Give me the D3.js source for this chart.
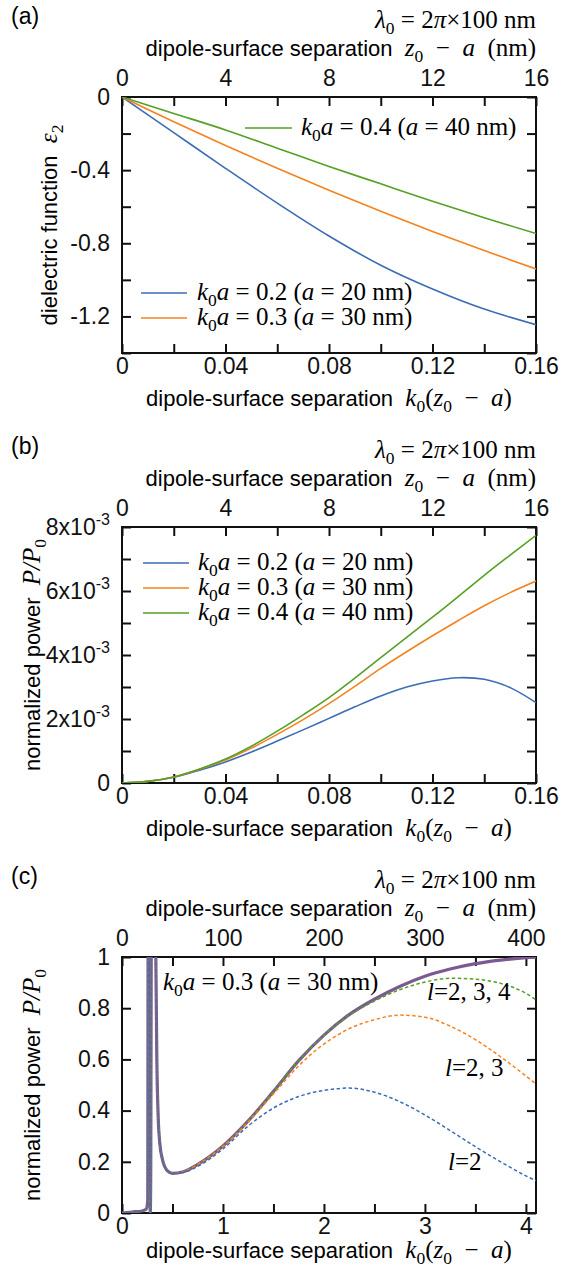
<!DOCTYPE html>
<html>
<head>
<meta charset="utf-8">
<script src="https://cdn.jsdelivr.net/npm/d3@7"></script>
<style>
  body { margin: 0; background: #fff; }
  svg text { white-space: pre; }
</style>
</head>
<body>
<div id="chart"></div>
<script>
// ---- data ----

// (a) dielectric function eps2 vs k0(z0-a)
const sepA = [0, 0.02, 0.04, 0.06, 0.08, 0.10, 0.12, 0.14, 0.16]
const epsK02 = [0, -0.195, -0.39, -0.58, -0.76, -0.92, -1.05, -1.16, -1.245]
const epsK03 = [0, -0.135, -0.265, -0.39, -0.51, -0.625, -0.735, -0.84, -0.94]
const epsK04 = [0, -0.09, -0.18, -0.28, -0.38, -0.475, -0.57, -0.66, -0.747]

// (b) normalized power (x 1e-3) vs k0(z0-a)
const sepB = [0, 0.01, 0.02, 0.03, 0.04, 0.05, 0.06, 0.07, 0.08, 0.09, 0.10, 0.11, 0.12, 0.13, 0.14, 0.15, 0.16]
const powK02 = [0, 0.05, 0.18, 0.40, 0.66, 0.97, 1.31, 1.66, 2.02, 2.38, 2.72, 3.00, 3.19, 3.29, 3.24, 2.98, 2.51]
const powK03 = [0, 0.05, 0.19, 0.43, 0.72, 1.09, 1.52, 1.98, 2.48, 3.02, 3.58, 4.10, 4.60, 5.08, 5.54, 5.95, 6.31]
const powK04 = [0, 0.05, 0.19, 0.44, 0.75, 1.15, 1.62, 2.13, 2.67, 3.28, 3.92, 4.55, 5.18, 5.83, 6.49, 7.12, 7.74]

// (c) normalized power vs k0(z0-a), k0a = 0.3
const sepC = [0, 0.1, 0.2, 0.24, 0.255, 0.26, 0.268, 0.275, 0.28, 0.285, 0.292, 0.32, 0.335, 0.345, 0.358, 0.375,
  0.4, 0.45, 0.5, 0.6, 0.75, 1.0, 1.25, 1.5, 1.75, 2.0, 2.25, 2.5, 2.75, 3.0, 3.25, 3.5, 3.75, 4.0, 4.1]
const spike = [0, 0.004, 0.008, 0.015, 0.05, 1.5, 1.5, 0.2, 0.0, 0.2, 1.5, 2.0, 1.0, 0.6, 0.38, 0.27, 0.21, 0.165, 0.155]
const powTotal = spike.concat([0.16, 0.19, 0.262, 0.36, 0.475, 0.595, 0.695, 0.775, 0.835, 0.885, 0.925, 0.953, 0.974, 0.988, 0.997, 1.0])
const powL2 = spike.concat([0.158, 0.182, 0.25, 0.34, 0.41, 0.455, 0.479, 0.488, 0.472, 0.435, 0.383, 0.322, 0.259, 0.2, 0.145, 0.126])
const powL23 = spike.concat([0.16, 0.19, 0.26, 0.355, 0.465, 0.575, 0.66, 0.72, 0.755, 0.773, 0.765, 0.73, 0.677, 0.61, 0.535, 0.504])
const powL234 = spike.concat([0.16, 0.19, 0.262, 0.36, 0.475, 0.595, 0.695, 0.772, 0.828, 0.872, 0.902, 0.917, 0.913, 0.897, 0.858, 0.833])

// ticks
const ticksA_bottom = [0, 0.02, 0.04, 0.06, 0.08, 0.10, 0.12, 0.14, 0.16]
const labelsA_bottom = [0, 0.04, 0.08, 0.12, 0.16]
const ticksNm16 = [0, 2, 4, 6, 8, 10, 12, 14, 16]
const labelsNm16 = [0, 4, 8, 12, 16]
const ticksA_y = [0, -0.2, -0.4, -0.6, -0.8, -1.0, -1.2, -1.4]
const labelsA_y = [0, -0.4, -0.8, -1.2]
const ticksB_y = [0, 1, 2, 3, 4, 5, 6, 7, 8]
const labelsB_y = [0, 2, 4, 6, 8]
const ticksC_bottom = [0, 0.5, 1, 1.5, 2, 2.5, 3, 3.5, 4]
const labelsC_bottom = [0, 1, 2, 3, 4]
const ticksC_top = [0, 50, 100, 150, 200, 250, 300, 350, 400]
const labelsC_top = [0, 100, 200, 300, 400]
const ticksC_y = [0, 0.2, 0.4, 0.6, 0.8, 1]

const sans = '"Liberation Sans", Arial, sans-serif'
const serif = '"Liberation Serif", "Times New Roman", serif'
const blue = '#3b6db4'
const orange = '#f5821f'
const green = '#55a025'
const purple = '#7a5a90'

;(function () {

  const W = 565
  const H = 1268
  const margin = { left: 122, right: 29 }
  const width = W - margin.left - margin.right
  const height = 256
  const panelTops = [97, 527, 957]
  const fs = 23      // tick labels
  const ts = 22      // sans part of titles
  const ms = 25      // serif math

  const svg = d3.select('#chart').append('svg')
    .attr('width', W)
    .attr('height', H)

  // write a mix of sans words and serif math pieces into one text element
  function mathText (sel, parts, size, sansSize) {
    let shift = 0
    sansSize = sansSize || size
    parts.forEach(([t, kind]) => {
      const span = sel.append('tspan').text(t)
      let target = 0
      if (kind === 'sub') target = size * 0.25
      if (kind === 'ssup') target = -sansSize * 0.42
      if (target - shift !== 0) span.attr('dy', target - shift)
      shift = target
      const isSans = kind === 'sans' || kind === 'ssup'
      span.attr('font-family', isSans ? sans : serif)
      if (kind === 'it') span.attr('font-style', 'italic')
      if (kind === 'sans') span.attr('font-size', sansSize)
      else if (kind === 'ssup') span.attr('font-size', sansSize * 0.7)
      else if (kind === 'sub') span.attr('font-size', size * 0.7)
      else span.attr('font-size', size)
    })
  }

  const lambdaParts = [['λ', 'it'], ['0', 'sub'], [' = 2', 'rm'], ['π', 'it'], ['×100 nm', 'rm']]
  const topTitle = [['dipole-surface separation  ', 'sans'], ['z', 'it'], ['0', 'sub'], ['  −  ', 'rm'], ['a', 'it'], ['  (nm)', 'rm']]
  const bottomTitle = [['dipole-surface separation  ', 'sans'], ['k', 'it'], ['0', 'sub'], ['(', 'rm'], ['z', 'it'], ['0', 'sub'], ['  −  ', 'rm'], ['a', 'it'], [')', 'rm']]
  const powerTitle = [['normalized power  ', 'sans'], ['P/P', 'it'], ['0', 'sub']]

  function k0aLabel (v, nm) {
    return [['k', 'it'], ['0', 'sub'], ['a', 'it'], [' = ' + v + ' (', 'rm'], ['a', 'it'], [' = ' + nm + ' nm)', 'rm']]
  }

  function frame (i, letter, x, xTicks, xLabels, xFmt, xTop, topTicks, topLabels, y, yTicks, yLabels, yTitle, yTitleX, titleGap) {
    const g = svg.append('g')
      .attr('transform', 'translate(' + margin.left + ',' + panelTops[i] + ')')

    const fmt = (labels, f) => d => labels.some(l => Math.abs(l - d) < 1e-9) ? f(d) : ''

    const bottom = g.append('g')
      .attr('transform', 'translate(0,' + height + ')')
      .call(d3.axisBottom(x).tickValues(xTicks).tickSize(-9).tickPadding(5).tickFormat(fmt(xLabels, xFmt)))
    const top = g.append('g')
      .call(d3.axisTop(xTop).tickValues(topTicks).tickSize(-9).tickPadding(11).tickFormat(fmt(topLabels, String)))
    const left = g.append('g')
      .call(d3.axisLeft(y).tickValues(yTicks).tickSize(-9).tickPadding(12).tickFormat(fmt(yLabels, String)))
    const right = g.append('g')
      .attr('transform', 'translate(' + width + ',0)')
      .call(d3.axisRight(y).tickValues(yTicks).tickSize(-9).tickFormat(''))

    ;[bottom, top, left, right].forEach(a => {
      a.select('.domain').remove()
      a.attr('font-size', fs).attr('font-family', sans)
      a.selectAll('.tick line').attr('stroke', '#111').attr('stroke-width', 2)
      a.selectAll('.tick text').attr('fill', '#111')
    })

    g.append('rect')
      .attr('width', width)
      .attr('height', height)
      .attr('fill', 'none')
      .attr('stroke', '#111')
      .attr('stroke-width', 2)

    // panel letter
    svg.append('text')
      .attr('x', 11)
      .attr('y', panelTops[i] - 73)
      .attr('font-family', sans)
      .attr('font-size', fs)
      .text(letter)

    // lambda line + top axis title
    mathText(g.append('text')
      .attr('x', width)
      .attr('y', -69)
      .attr('text-anchor', 'end'), lambdaParts, ms, ts)

    mathText(g.append('text')
      .attr('x', width)
      .attr('y', -41)
      .attr('text-anchor', 'end'), topTitle, ms, ts)

    mathText(g.append('text')
      .attr('x', width / 2)
      .attr('y', height + titleGap)
      .attr('text-anchor', 'middle'), bottomTitle, ms, ts)

    mathText(g.append('text')
      .attr('transform', 'translate(' + (yTitleX - margin.left) + ',' + (height / 2) + ') rotate(-90)')
      .attr('text-anchor', 'middle'), yTitle, ms, ts)

    g.append('clipPath')
      .attr('id', 'clip' + i)
      .append('rect')
      .attr('width', width)
      .attr('height', height)

    return { g, left }
  }

  function drawLine (g, i, xs, ys, x, y, color, w, dash, curve) {
    const line = d3.line()
      .x((d, j) => x(xs[j]))
      .y(d => y(d))
      .curve(curve || d3.curveCatmullRom)
    g.append('path')
      .datum(ys)
      .attr('clip-path', 'url(#clip' + i + ')')
      .attr('d', line)
      .attr('fill', 'none')
      .attr('stroke', color)
      .attr('stroke-width', w)
      .attr('stroke-dasharray', dash || null)
  }

  function legend (g, items, x0, lineW, gap) {
    items.forEach(it => {
      g.append('line')
        .attr('x1', x0).attr('x2', x0 + lineW)
        .attr('y1', it.y).attr('y2', it.y)
        .attr('stroke', it.color)
        .attr('stroke-width', 1.6)
      mathText(g.append('text')
        .attr('x', x0 + lineW + gap)
        .attr('y', it.y + 7), it.label, 25)
    })
  }

  // ---------- (a) ----------
  const xA = d3.scaleLinear().domain([0, 0.16]).range([0, width])
  const xNm = d3.scaleLinear().domain([0, 16]).range([0, width])
  const yA = d3.scaleLinear().domain([-1.4, 0]).range([height, 0])
  const epsTitle = [['dielectric function  ', 'sans'], ['ε', 'it'], ['2', 'sub']]
  const pa = frame(0, '(a)', xA, ticksA_bottom, labelsA_bottom, String, xNm, ticksNm16, labelsNm16,
    yA, ticksA_y, labelsA_y, epsTitle, 57, 53)
  drawLine(pa.g, 0, sepA, epsK02, xA, yA, blue, 1.6)
  drawLine(pa.g, 0, sepA, epsK03, xA, yA, orange, 1.6)
  drawLine(pa.g, 0, sepA, epsK04, xA, yA, green, 1.6)
  legend(pa.g, [{ y: 31, color: green, label: k0aLabel('0.4', '40') }], 123, 47, 9)
  legend(pa.g, [
    { y: 196, color: blue, label: k0aLabel('0.2', '20') },
    { y: 221, color: orange, label: k0aLabel('0.3', '30') }
  ], 19, 46, 10)

  // ---------- (b) ----------
  const yB = d3.scaleLinear().domain([0, 8]).range([height, 0])
  const pb = frame(1, '(b)', xA, ticksA_bottom, labelsA_bottom, String, xNm, ticksNm16, labelsNm16,
    yB, ticksB_y, labelsB_y, powerTitle, 40, 53)
  pb.left.selectAll('.tick text')
    .filter(d => d > 0 && labelsB_y.includes(d))
    .text(null)
    .each(function (d) {
      mathText(d3.select(this), [[d + 'x10', 'sans'], ['-3', 'ssup']], fs, fs)
    })
  drawLine(pb.g, 1, sepB, powK02, xA, yB, blue, 1.6)
  drawLine(pb.g, 1, sepB, powK03, xA, yB, orange, 1.6)
  drawLine(pb.g, 1, sepB, powK04, xA, yB, green, 1.6)
  legend(pb.g, [
    { y: 36, color: blue, label: k0aLabel('0.2', '20') },
    { y: 61, color: orange, label: k0aLabel('0.3', '30') },
    { y: 86, color: green, label: k0aLabel('0.4', '40') }
  ], 21, 46, 9)

  // ---------- (c) ----------
  const xC = d3.scaleLinear().domain([0, 4.1]).range([0, width])
  const xCnm = d3.scaleLinear().domain([0, 410]).range([0, width])
  const yC = d3.scaleLinear().domain([0, 1]).range([height, 0])
  const pc = frame(2, '(c)', xC, ticksC_bottom, labelsC_bottom, String, xCnm, ticksC_top, labelsC_top,
    yC, ticksC_y, ticksC_y, powerTitle, 40, 45)
  const mono = d3.curveMonotoneX
  drawLine(pc.g, 2, sepC, powTotal, xC, yC, purple, 3.2, null, mono)
  drawLine(pc.g, 2, sepC, powL234, xC, yC, green, 1.5, '3.5,2.5', mono)
  drawLine(pc.g, 2, sepC, powL23, xC, yC, orange, 1.5, '3.5,2.5', mono)
  drawLine(pc.g, 2, sepC, powL2, xC, yC, blue, 1.5, '3.5,2.5', mono)

  mathText(pc.g.append('text').attr('x', 41).attr('y', 33), k0aLabel('0.3', '30'), 25)

  const lLabels = [
    { x: 305, y: 43, t: '=2, 3, 4' },
    { x: 323, y: 119, t: '=2, 3' },
    { x: 326, y: 213, t: '=2' }
  ]
  lLabels.forEach(d => {
    mathText(pc.g.append('text').attr('x', d.x).attr('y', d.y), [['l', 'it'], [d.t, 'rm']], 25)
  })

})();
</script>
</body>
</html>
